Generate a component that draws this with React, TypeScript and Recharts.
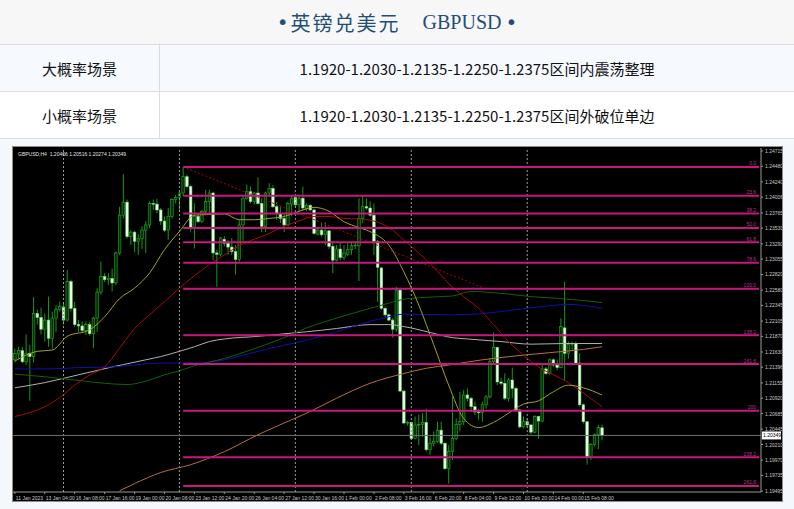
import React from 'react';
import { ComposedChart, Bar, Line, XAxis, YAxis, ReferenceLine } from 'recharts';

// GBPUSD H4 candles, 11 Jan 20:00 .. 16 Feb 04:00 -> [open, high, low, close]
const candles: [number, number, number, number][] = [
  [1.2151, 1.2168, 1.2147, 1.2161], [1.2160, 1.2171, 1.2153, 1.2165], [1.2165, 1.2171, 1.2146, 1.2148], [1.2148, 1.2190, 1.2143, 1.2161], [1.2161, 1.2174, 1.2088, 1.2156],
  [1.2156, 1.2247, 1.2147, 1.2222], [1.2222, 1.2228, 1.2205, 1.2216], [1.2216, 1.2231, 1.2190, 1.2198], [1.2198, 1.2222, 1.2179, 1.2212], [1.2212, 1.2248, 1.2171, 1.2184],
  [1.2184, 1.2225, 1.2168, 1.2215], [1.2215, 1.2235, 1.2194, 1.2228], [1.2228, 1.2240, 1.2225, 1.2233], [1.2232, 1.2240, 1.2205, 1.2212], [1.2212, 1.2289, 1.2210, 1.2271],
  [1.2271, 1.2274, 1.2225, 1.2230], [1.2230, 1.2240, 1.2202, 1.2205], [1.2205, 1.2212, 1.2194, 1.2203], [1.2203, 1.2210, 1.2192, 1.2196], [1.2196, 1.2210, 1.2189, 1.2205],
  [1.2205, 1.2210, 1.2188, 1.2191], [1.2191, 1.2217, 1.2169, 1.2215], [1.2215, 1.2261, 1.2194, 1.2255], [1.2255, 1.2302, 1.2251, 1.2279], [1.2279, 1.2284, 1.2270, 1.2274],
  [1.2274, 1.2284, 1.2266, 1.2276], [1.2276, 1.2291, 1.2256, 1.2269], [1.2269, 1.2317, 1.2266, 1.2315], [1.2315, 1.2386, 1.2312, 1.2373], [1.2373, 1.2436, 1.2368, 1.2393],
  [1.2393, 1.2397, 1.2337, 1.2340], [1.2340, 1.2350, 1.2327, 1.2347], [1.2347, 1.2349, 1.2316, 1.2333], [1.2333, 1.2344, 1.2312, 1.2337], [1.2337, 1.2356, 1.2321, 1.2350],
  [1.2350, 1.2364, 1.2315, 1.2358], [1.2358, 1.2394, 1.2353, 1.2391], [1.2391, 1.2397, 1.2381, 1.2390], [1.2390, 1.2398, 1.2376, 1.2381], [1.2381, 1.2384, 1.2358, 1.2364],
  [1.2364, 1.2371, 1.2347, 1.2350], [1.2350, 1.2384, 1.2335, 1.2371], [1.2371, 1.2399, 1.2368, 1.2397], [1.2397, 1.2404, 1.2391, 1.2400], [1.2400, 1.2409, 1.2379, 1.2407],
  [1.2407, 1.2447, 1.2402, 1.2432], [1.2432, 1.2435, 1.2414, 1.2417], [1.2417, 1.2420, 1.2348, 1.2353], [1.2353, 1.2391, 1.2322, 1.2371], [1.2371, 1.2376, 1.2361, 1.2363],
  [1.2363, 1.2381, 1.2361, 1.2379], [1.2379, 1.2412, 1.2373, 1.2394], [1.2394, 1.2412, 1.2376, 1.2407], [1.2407, 1.2409, 1.2304, 1.2315], [1.2315, 1.2320, 1.2263, 1.2313],
  [1.2313, 1.2340, 1.2310, 1.2338], [1.2336, 1.2341, 1.2325, 1.2330], [1.2330, 1.2335, 1.2312, 1.2324], [1.2324, 1.2338, 1.2312, 1.2317], [1.2317, 1.2327, 1.2282, 1.2305],
  [1.2305, 1.2366, 1.2302, 1.2358], [1.2358, 1.2402, 1.2333, 1.2399], [1.2399, 1.2420, 1.2397, 1.2409], [1.2409, 1.2417, 1.2391, 1.2394], [1.2394, 1.2409, 1.2389, 1.2407],
  [1.2407, 1.2431, 1.2389, 1.2391], [1.2391, 1.2399, 1.2347, 1.2356], [1.2356, 1.2409, 1.2347, 1.2407], [1.2407, 1.2422, 1.2404, 1.2414], [1.2414, 1.2419, 1.2384, 1.2386],
  [1.2386, 1.2393, 1.2366, 1.2376], [1.2376, 1.2386, 1.2361, 1.2368], [1.2368, 1.2376, 1.2347, 1.2358], [1.2358, 1.2394, 1.2356, 1.2391], [1.2390, 1.2404, 1.2371, 1.2399],
  [1.2400, 1.2404, 1.2384, 1.2389], [1.2389, 1.2404, 1.2379, 1.2399], [1.2399, 1.2417, 1.2380, 1.2384], [1.2383, 1.2391, 1.2379, 1.2388], [1.2388, 1.2390, 1.2379, 1.2381],
  [1.2381, 1.2383, 1.2343, 1.2345], [1.2344, 1.2353, 1.2342, 1.2350], [1.2350, 1.2361, 1.2340, 1.2343], [1.2343, 1.2362, 1.2327, 1.2349], [1.2349, 1.2350, 1.2321, 1.2325],
  [1.2325, 1.2333, 1.2284, 1.2304], [1.2304, 1.2327, 1.2302, 1.2321], [1.2321, 1.2330, 1.2304, 1.2308], [1.2308, 1.2327, 1.2304, 1.2315], [1.2313, 1.2330, 1.2310, 1.2320],
  [1.2320, 1.2333, 1.2312, 1.2326], [1.2326, 1.2333, 1.2321, 1.2327], [1.2326, 1.2399, 1.2272, 1.2368], [1.2368, 1.2402, 1.2361, 1.2386], [1.2386, 1.2399, 1.2381, 1.2384],
  [1.2384, 1.2394, 1.2371, 1.2373], [1.2373, 1.2391, 1.2312, 1.2333], [1.2333, 1.2335, 1.2240, 1.2293], [1.2292, 1.2294, 1.2228, 1.2230], [1.2230, 1.2233, 1.2217, 1.2220],
  [1.2220, 1.2222, 1.2210, 1.2212], [1.2212, 1.2215, 1.2185, 1.2198], [1.2198, 1.2263, 1.2194, 1.2258], [1.2258, 1.2261, 1.2102, 1.2103], [1.2103, 1.2105, 1.2052, 1.2054],
  [1.2054, 1.2057, 1.2050, 1.2055], [1.2055, 1.2056, 1.2028, 1.2030], [1.2030, 1.2064, 1.2029, 1.2051], [1.2051, 1.2067, 1.2020, 1.2052], [1.2052, 1.2069, 1.2033, 1.2055],
  [1.2055, 1.2076, 1.2010, 1.2013], [1.2013, 1.2033, 1.2005, 1.2023], [1.2023, 1.2041, 1.2018, 1.2026], [1.2026, 1.2056, 1.2024, 1.2043], [1.2043, 1.2056, 1.2020, 1.2023],
  [1.2023, 1.2024, 1.1982, 1.1984], [1.1984, 1.2020, 1.1961, 1.2010], [1.2010, 1.2094, 1.1997, 1.2030], [1.2030, 1.2061, 1.2028, 1.2052], [1.2052, 1.2102, 1.2041, 1.2056],
  [1.2056, 1.2105, 1.2051, 1.2097], [1.2097, 1.2107, 1.2087, 1.2092], [1.2092, 1.2094, 1.2071, 1.2079], [1.2079, 1.2087, 1.2066, 1.2071], [1.2071, 1.2076, 1.2059, 1.2070],
  [1.2070, 1.2087, 1.2056, 1.2082], [1.2082, 1.2097, 1.2076, 1.2094], [1.2094, 1.2153, 1.2092, 1.2148], [1.2148, 1.2193, 1.2143, 1.2170], [1.2170, 1.2171, 1.2112, 1.2117],
  [1.2117, 1.2123, 1.2112, 1.2115], [1.2115, 1.2130, 1.2089, 1.2092], [1.2092, 1.2123, 1.2087, 1.2120], [1.2120, 1.2139, 1.2092, 1.2107], [1.2107, 1.2110, 1.2071, 1.2074],
  [1.2074, 1.2076, 1.2046, 1.2048], [1.2048, 1.2064, 1.2046, 1.2056], [1.2056, 1.2061, 1.2046, 1.2051], [1.2051, 1.2053, 1.2036, 1.2040], [1.2040, 1.2066, 1.2038, 1.2064],
  [1.2064, 1.2065, 1.2030, 1.2057], [1.2057, 1.2143, 1.2055, 1.2137], [1.2137, 1.2140, 1.2128, 1.2130], [1.2130, 1.2153, 1.2128, 1.2151], [1.2151, 1.2153, 1.2140, 1.2143],
  [1.2143, 1.2151, 1.2135, 1.2139], [1.2139, 1.2215, 1.2138, 1.2202], [1.2200, 1.2271, 1.2120, 1.2161], [1.2161, 1.2179, 1.2153, 1.2175], [1.2175, 1.2179, 1.2164, 1.2176],
  [1.2176, 1.2179, 1.2143, 1.2146], [1.2146, 1.2161, 1.2079, 1.2082], [1.2082, 1.2084, 1.2053, 1.2056], [1.2056, 1.2057, 1.1990, 1.2002], [1.2002, 1.2023, 1.1997, 1.2021],
  [1.2021, 1.2038, 1.2018, 1.2036], [1.2036, 1.2051, 1.2014, 1.2047], [1.20466, 1.20516, 1.20274, 1.20349],
];

// moving averages read at sample bars: [bar index, price]
const maOlive: [number, number][] = [
  [0, 1.2149], [6, 1.2164], [10, 1.2166], [14, 1.2187], [20, 1.2197], [24, 1.2217], [28, 1.2245], [32, 1.2261], [36, 1.2284], [40, 1.2320],
  [44, 1.2348], [48, 1.2373], [52, 1.2374], [56, 1.2375], [60, 1.2366], [64, 1.2366], [68, 1.2368], [72, 1.2371], [76, 1.2379], [80, 1.2385],
  [84, 1.2379], [88, 1.2363], [92, 1.2354], [96, 1.2345], [100, 1.2327], [104, 1.2286], [108, 1.2235], [112, 1.2174], [116, 1.2112], [120, 1.2061],
  [124, 1.2047], [128, 1.2055], [132, 1.2069], [136, 1.2083], [140, 1.2088], [144, 1.2102], [148, 1.2112], [152, 1.2108], [157, 1.2097],
];
const maRed: [number, number][] = [
  [0, 1.2064], [8, 1.2079], [12, 1.2093], [16, 1.2112], [20, 1.2128], [24, 1.2140], [28, 1.2169], [32, 1.2199], [36, 1.2220], [40, 1.2240],
  [44, 1.2261], [48, 1.2280], [52, 1.2297], [56, 1.2312], [60, 1.2326], [64, 1.2336], [68, 1.2345], [72, 1.2356], [76, 1.2364], [80, 1.2371],
  [84, 1.2371], [88, 1.2368], [92, 1.2367], [96, 1.2364], [100, 1.2354], [104, 1.2335], [108, 1.2315], [112, 1.2293], [116, 1.2268], [120, 1.2248],
  [124, 1.2230], [128, 1.2205], [132, 1.2179], [136, 1.2158], [140, 1.2140], [144, 1.2128], [148, 1.2116], [152, 1.2100], [157, 1.2079],
];
const maGreen: [number, number][] = [
  [0, 1.2129], [8, 1.2125], [16, 1.2120], [24, 1.2115], [30, 1.2113], [36, 1.2120], [40, 1.2128], [44, 1.2134], [48, 1.2142], [56, 1.2153],
  [64, 1.2168], [72, 1.2185], [78, 1.2200], [86, 1.2215], [95, 1.2230], [100, 1.2238], [104, 1.2244], [110, 1.2247], [117, 1.2249], [122, 1.2256],
  [130, 1.2253], [138, 1.2248], [146, 1.2245], [157, 1.2239],
];
const maBlue: [number, number][] = [
  [0, 1.2137], [9, 1.2137], [17, 1.2139], [26, 1.2140], [39, 1.2146], [48, 1.2146], [52, 1.2147], [61, 1.2158], [70, 1.2171], [78, 1.2181],
  [86, 1.2194], [95, 1.2210], [100, 1.2217], [104, 1.2221], [117, 1.2220], [125, 1.2222], [134, 1.2228], [143, 1.2234], [148, 1.2236], [157, 1.2230],
];
const maGray: [number, number][] = [
  [0, 1.2108], [8, 1.2116], [17, 1.2128], [26, 1.2140], [35, 1.2151], [39, 1.2156], [44, 1.2164], [48, 1.2171], [52, 1.2179], [56, 1.2183],
  [65, 1.2187], [74, 1.2192], [78, 1.2194], [86, 1.2199], [95, 1.2205], [100, 1.2205], [104, 1.2202], [111, 1.2193], [117, 1.2185], [121, 1.2183],
  [130, 1.2179], [138, 1.2175], [147, 1.2176], [157, 1.2176],
];
const maBrown: [number, number][] = [
  [28, 1.1950], [32, 1.1961], [39, 1.1978], [47, 1.1990], [56, 1.2010], [65, 1.2036], [74, 1.2059], [78, 1.2069], [86, 1.2092], [95, 1.2115],
  [104, 1.2130], [110, 1.2138], [116, 1.2143], [125, 1.2151], [134, 1.2157], [143, 1.2162], [152, 1.2167], [157, 1.2171],
];
// dotted trend line from the 23 Jan high
const trendLine: [number, number][] = [[45, 1.2447], [125, 1.2262]];

const fibHigh = 1.2447;
const fibLow = 1.2260;
const fibRatios = [0, 0.236, 0.382, 0.5, 0.618, 0.786, 1, 1.382, 1.618, 2, 2.382, 2.618];
const fibLabels = ['0.0', '23.6', '38.2', '50.0', '61.8', '78.6', '100.0', '138.2', '161.8', '200', '238.2', '261.8'];
const fibStart = 45;

const priceTicks = [
  1.24715, 1.2448, 1.2424, 1.24006, 1.23765, 1.2353, 1.2329, 1.23055, 1.2282, 1.2258, 1.22345, 1.22105,
  1.2187, 1.2163, 1.21396, 1.21155, 1.2092, 1.20685, 1.20445, 1.2021, 1.1997, 1.19735, 1.19495,
];
const timeTicks: [number, string][] = [
  [0, '11 Jan 2023'], [8, '13 Jan 04:00'], [16, '16 Jan 08:00'], [24, '17 Jan 16:00'], [32, '19 Jan 00:00'],
  [40, '20 Jan 08:00'], [48, '23 Jan 12:00'], [56, '24 Jan 20:00'], [64, '26 Jan 04:00'], [72, '27 Jan 12:00'],
  [80, '30 Jan 16:00'], [88, '1 Feb 00:00'], [96, '2 Feb 08:00'], [104, '3 Feb 16:00'], [112, '6 Feb 20:00'],
  [120, '8 Feb 04:00'], [128, '9 Feb 12:00'], [136, '10 Feb 20:00'], [144, '14 Feb 00:00'], [152, '15 Feb 08:00'],
];
const weekStarts = [13, 44, 75, 106, 137];
const bid = 1.20349;
const chartTitle = 'GBPUSD,H4  1.20466 1.20516 1.20274 1.20349';

const scenarios: [string, string][] = [
  ['大概率场景', '1.1920-1.2030-1.2135-1.2250-1.2375区间内震荡整理'],
  ['小概率场景', '1.1920-1.2030-1.2135-1.2250-1.2375区间外破位单边'],
];

const SLOTS = 200; // bars + empty right shift

const rows: any[] = Array.from({ length: SLOTS }, (_, i) => {
  const row: any = { i };
  const c = candles[i];
  if (c) {
    row.o = c[0]; row.h = c[1]; row.l = c[2]; row.c = c[3];
    row.range = [c[2], c[1]];
  }
  return row;
});
const put = (key: string, pts: [number, number][]) => pts.forEach(([i, v]) => { rows[i][key] = v; });
put('olive', maOlive);
put('red', maRed);
put('green', maGreen);
put('blue', maBlue);
put('gray', maGray);
put('brown', maBrown);
put('trend', trendLine);

const timeLabel = new Map(timeTicks);
const axisFont = '"Liberation Sans", Arial, sans-serif';

const Candle = (props: any) => {
  const { x, y, width, height, payload } = props;
  if (!payload || payload.o == null || !isFinite(y)) return <g />;
  const cx = x + width / 2;
  const top = Math.min(y, y + height);
  const bot = Math.max(y, y + height);
  const span = payload.h - payload.l || 1;
  const py = (v: number) => top + ((payload.h - v) / span) * (bot - top);
  const up = payload.c >= payload.o;
  const b1 = py(Math.max(payload.o, payload.c));
  const b2 = py(Math.min(payload.o, payload.c));
  return (
    <g>
      <line x1={cx} x2={cx} y1={top} y2={bot} stroke="#159a15" strokeWidth={1} />
      <rect
        x={cx - 1.3}
        y={b1}
        width={2.6}
        height={Math.max(b2 - b1, 0.8)}
        fill={up ? '#063006' : '#eaffea'}
        stroke={up ? '#1fae1f' : '#6ad86a'}
        strokeWidth={0.6}
      />
    </g>
  );
};

const TimeTick = ({ x, y, payload }: any) => (
  <text x={x + 1} y={y + 4} fontSize={5} fill="#c8c8c8" fontFamily={axisFont}>
    {timeLabel.get(payload.value) ?? ''}
  </text>
);

const PriceTick = ({ x, y, payload }: any) => (
  <text x={x} y={y + 2} fontSize={5} fill="#c8c8c8" fontFamily={axisFont}>
    {Number(payload.value).toFixed(5)}
  </text>
);

const FibLabel = ({ viewBox, text }: any) => {
  if (!viewBox) return null;
  return (
    <text x={viewBox.x + viewBox.width - 3} y={viewBox.y - 1.5} textAnchor="end" fontSize={5} fill="#b43a8a" fontFamily={axisFont}>
      {text}
    </text>
  );
};

const BidLabel = ({ viewBox }: any) => {
  if (!viewBox) return null;
  const bx = viewBox.x + viewBox.width + 1;
  return (
    <g>
      <rect x={bx} y={viewBox.y - 4} width={19} height={8} fill="#ffffff" />
      <text x={bx + 1} y={viewBox.y + 2} fontSize={5} fill="#000" fontFamily={axisFont}>
        {bid.toFixed(5)}
      </text>
    </g>
  );
};

const PriceChart = () => (
  <ComposedChart width={769} height={354} data={rows} margin={{ top: 1, right: 0, bottom: 0, left: 0 }}>
    <XAxis
      dataKey="i"
      type="category"
      ticks={timeTicks.map((t) => t[0])}
      interval={0}
      tick={<TimeTick />}
      tickSize={2}
      height={9}
      axisLine={{ stroke: '#9a9a9a' }}
      tickLine={{ stroke: '#9a9a9a' }}
    />
    <YAxis
      orientation="right"
      type="number"
      domain={[1.19481, 1.24761]}
      allowDataOverflow
      ticks={priceTicks}
      interval={0}
      width={21}
      tick={<PriceTick />}
      tickSize={2}
      axisLine={{ stroke: '#9a9a9a' }}
      tickLine={{ stroke: '#9a9a9a' }}
    />
    {weekStarts.map((w) => (
      <ReferenceLine key={`w${w}`} x={w} stroke="#9a9a9a" strokeDasharray="2 2" strokeWidth={1} />
    ))}
    <ReferenceLine y={bid} stroke="#6e6e6e" strokeWidth={1} label={<BidLabel />} />
    <Bar dataKey="range" shape={<Candle />} isAnimationActive={false} />
    <Line dataKey="brown" type="monotone" stroke="#b86d3c" strokeWidth={1} dot={false} connectNulls isAnimationActive={false} />
    <Line dataKey="gray" type="monotone" stroke="#b0b0b0" strokeWidth={1} dot={false} connectNulls isAnimationActive={false} />
    <Line dataKey="blue" type="monotone" stroke="#1010a8" strokeWidth={1} dot={false} connectNulls isAnimationActive={false} />
    <Line dataKey="green" type="monotone" stroke="#0c620c" strokeWidth={1} dot={false} connectNulls isAnimationActive={false} />
    <Line dataKey="red" type="monotone" stroke="#aa0a0a" strokeWidth={1} dot={false} connectNulls isAnimationActive={false} />
    <Line dataKey="olive" type="monotone" stroke="#a3a318" strokeWidth={1} dot={false} connectNulls isAnimationActive={false} />
    <Line dataKey="trend" type="linear" stroke="#b00000" strokeWidth={1} strokeDasharray="2 2" dot={false} connectNulls isAnimationActive={false} />
    {fibRatios.map((r, k) => {
      const lvl = fibHigh - r * (fibHigh - fibLow);
      return (
        <ReferenceLine
          key={`f${k}`}
          segment={[{ x: fibStart, y: lvl }, { x: SLOTS - 1, y: lvl }]}
          stroke="#c8177f"
          strokeWidth={2}
          label={<FibLabel text={fibLabels[k]} />}
        />
      );
    })}
  </ComposedChart>
);

const cell: React.CSSProperties = {
  position: 'absolute',
  display: 'flex',
  alignItems: 'center',
  justifyContent: 'center',
  fontSize: 15,
  color: '#111',
};

export default function App() {
  return (
    <div
      style={{
        position: 'absolute',
        left: 0,
        top: 0,
        width: 794,
        height: 509,
        overflow: 'hidden',
        background: '#f4f8fc',
        fontFamily: '"Noto Sans CJK SC", sans-serif',
      }}
    >
      <div
        style={{
          position: 'absolute', left: 0, top: 0, width: 794, height: 45, boxSizing: 'border-box',
          background: '#f7f7f7', borderBottom: '1px solid #dcdcdc',
          display: 'flex', alignItems: 'center', justifyContent: 'center', color: '#1f4e79', fontSize: 20,
        }}
      >
        <span style={{ fontFamily: '"DejaVu Sans", sans-serif', marginRight: 2 }}>•</span>
        <span style={{ letterSpacing: 2, fontWeight: 400 }}>英镑兑美元</span>
        <span style={{ marginLeft: 22, fontFamily: '"Liberation Serif", serif' }}>GBPUSD</span>
        <span style={{ fontFamily: '"DejaVu Sans", sans-serif', marginLeft: 4 }}>•</span>
      </div>
      {scenarios.map(([name, text], k) => (
        <div
          key={name}
          style={{
            position: 'absolute', left: 0, top: 45 + k * 47, width: 794, height: 47, boxSizing: 'border-box',
            background: k === 0 ? '#f6f9fe' : '#ffffff', borderBottom: '1px solid #dcdcdc',
          }}
        >
          <div style={{ ...cell, left: 0, top: 0, width: 160, height: 46, borderRight: '1px solid #dcdcdc', boxSizing: 'border-box' }}>{name}</div>
          <div style={{ ...cell, left: 160, top: 0, width: 634, height: 46 }}>{text}</div>
        </div>
      ))}
      <div
        style={{
          position: 'absolute', left: 12, top: 146, width: 771, height: 356, boxSizing: 'border-box',
          background: '#000', border: '1px solid #8c8c8c',
        }}
      >
        <div style={{ position: 'absolute', left: 0, top: 0 }}>
          <PriceChart />
        </div>
        <div style={{ position: 'absolute', left: 5, top: 4, fontSize: 5, color: '#e0e0e0', fontFamily: axisFont, whiteSpace: 'pre' }}>
          {chartTitle}
        </div>
      </div>
    </div>
  );
}
